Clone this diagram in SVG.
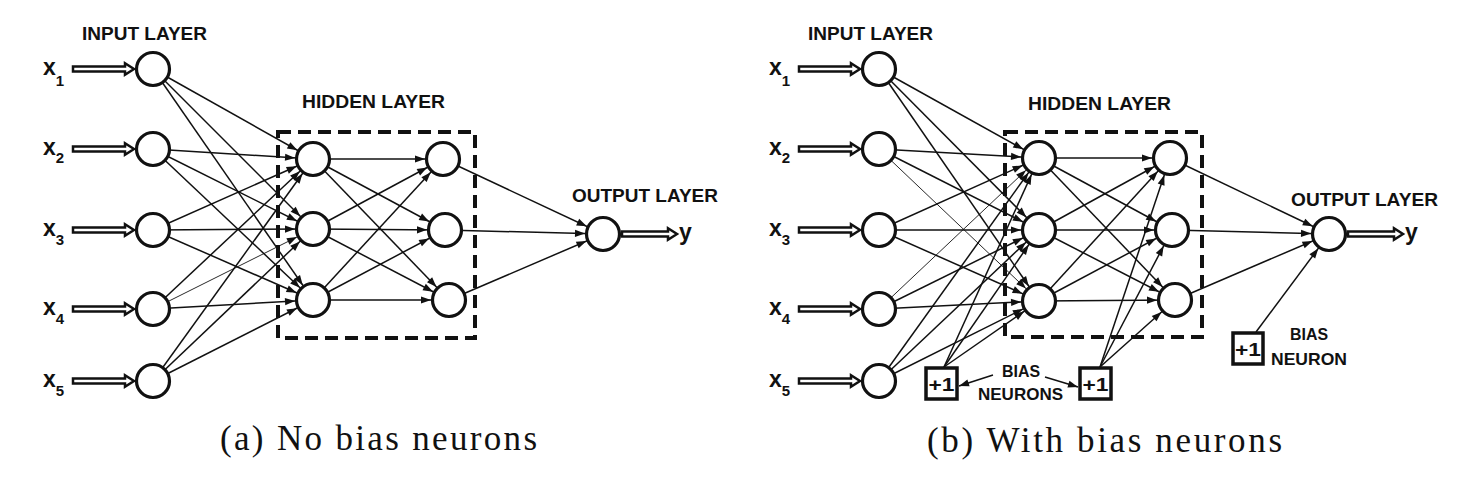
<svg xmlns="http://www.w3.org/2000/svg" xmlns:xlink="http://www.w3.org/1999/xlink" width="1469" height="488" viewBox="0 0 1469 488">
<style>
.lbl{font-family:"Liberation Sans",Arial,sans-serif;font-weight:bold;fill:#111}
.hdr{font-size:18.5px}
.cap{font-family:"Liberation Serif","Times New Roman",serif;font-size:35px;fill:#111}
.node{fill:#fff;stroke:#111;stroke-width:3.2}
.box{fill:#fff;stroke:#111;stroke-width:3.5}
.dash{fill:none;stroke:#111;stroke-width:4;stroke-dasharray:13 7}
.c{stroke:#111;stroke-width:1.5;fill:none;marker-end:url(#ah)}
.t{stroke-width:0.9}
.ca{stroke:#111;stroke-width:1.5;fill:none;marker-end:url(#ah0)}
.hol{fill:#fff;stroke:#111;stroke-width:2.5;stroke-linejoin:miter}
</style>
<defs>
<marker id="ah" markerUnits="userSpaceOnUse" markerWidth="30" markerHeight="20" refX="18" refY="0" orient="auto" overflow="visible">
<path d="M-10,-3.6 L0,0 L-10,3.6 Z" fill="#111"/>
</marker>
<marker id="ah0" markerUnits="userSpaceOnUse" markerWidth="30" markerHeight="20" refX="0" refY="0" orient="auto" overflow="visible">
<path d="M-10,-3.6 L0,0 L-10,3.6 Z" fill="#111"/>
</marker>
<path id="inArrow" class="hol" d="M0,-2.4 H52 V-5.8 L61,0 L52,5.8 V2.4 H0 Z"/>
<path id="outArrow" class="hol" d="M0,-2.4 H46 V-5.8 L55,0 L46,5.8 V2.4 H0 Z"/>
</defs>
<rect width="1469" height="488" fill="#fff"/>

<!-- ===== (a) connectors ===== -->
<g id="connectors-a">
<line class="c" x1="153" y1="69" x2="313" y2="159"/>
<line class="c" x1="153" y1="69" x2="313" y2="229"/>
<line class="c" x1="153" y1="69" x2="313" y2="300"/>
<line class="c" x1="153" y1="149" x2="313" y2="159"/>
<line class="c" x1="153" y1="149" x2="313" y2="229"/>
<line class="c" x1="153" y1="149" x2="313" y2="300"/>
<line class="c" x1="153" y1="230" x2="313" y2="159"/>
<line class="c" x1="153" y1="230" x2="313" y2="229"/>
<line class="c" x1="153" y1="230" x2="313" y2="300"/>
<line class="c" x1="153" y1="309" x2="313" y2="159"/>
<line class="c t" x1="153" y1="309" x2="313" y2="229"/>
<line class="c" x1="153" y1="309" x2="313" y2="300"/>
<line class="c" x1="153" y1="381" x2="313" y2="159"/>
<line class="c" x1="153" y1="381" x2="313" y2="229"/>
<line class="c" x1="153" y1="381" x2="313" y2="300"/>
<line class="c" x1="313" y1="159" x2="443" y2="159"/>
<line class="c" x1="313" y1="159" x2="445" y2="230"/>
<line class="c" x1="313" y1="159" x2="449" y2="300"/>
<line class="c" x1="313" y1="229" x2="443" y2="159"/>
<line class="c" x1="313" y1="229" x2="445" y2="230"/>
<line class="c" x1="313" y1="229" x2="449" y2="300"/>
<line class="c" x1="313" y1="300" x2="443" y2="159"/>
<line class="c" x1="313" y1="300" x2="445" y2="230"/>
<line class="c" x1="313" y1="300" x2="449" y2="300"/>
<line class="c" x1="443" y1="159" x2="603" y2="234"/>
<line class="c" x1="445" y1="230" x2="603" y2="234"/>
<line class="c" x1="449" y1="300" x2="603" y2="234"/>
<use xlink:href="#inArrow" x="73" y="69"/>
<use xlink:href="#inArrow" x="73" y="149"/>
<use xlink:href="#inArrow" x="73" y="230"/>
<use xlink:href="#inArrow" x="73" y="309"/>
<use xlink:href="#inArrow" x="73" y="381"/>
<use xlink:href="#outArrow" x="622" y="234"/>
</g>

<rect id="hidden-box-a" class="dash" x="278" y="132" width="197" height="206"/>

<g id="input-a" class="lbl">
<text class="hdr" x="82" y="40" textLength="125" lengthAdjust="spacingAndGlyphs">INPUT LAYER</text>
<g id="a-in1"><circle class="node" cx="153" cy="69" r="16.5"/><text x="43" y="75" font-size="23">x<tspan font-size="15" dy="11">1</tspan></text></g>
<g id="a-in2"><circle class="node" cx="153" cy="149" r="16.5"/><text x="43" y="155" font-size="23">x<tspan font-size="15" dy="8">2</tspan></text></g>
<g id="a-in3"><circle class="node" cx="153" cy="230" r="16.5"/><text x="43" y="236" font-size="23">x<tspan font-size="15" dy="9">3</tspan></text></g>
<g id="a-in4"><circle class="node" cx="153" cy="309" r="16.5"/><text x="43" y="315" font-size="23">x<tspan font-size="15" dy="9">4</tspan></text></g>
<g id="a-in5"><circle class="node" cx="153" cy="381" r="16.5"/><text x="43" y="387" font-size="23">x<tspan font-size="15" dy="9">5</tspan></text></g>
</g>
<g id="hidden-a" class="lbl">
<text class="hdr" x="302" y="108" textLength="143" lengthAdjust="spacingAndGlyphs">HIDDEN LAYER</text>
<g id="a-h11"><circle class="node" cx="313" cy="159" r="16.5"/></g>
<g id="a-h12"><circle class="node" cx="313" cy="229" r="16.5"/></g>
<g id="a-h13"><circle class="node" cx="313" cy="300" r="16.5"/></g>
<g id="a-h21"><circle class="node" cx="443" cy="159" r="16.5"/></g>
<g id="a-h22"><circle class="node" cx="445" cy="230" r="16.5"/></g>
<g id="a-h23"><circle class="node" cx="449" cy="300" r="16.5"/></g>
</g>
<g id="output-a" class="lbl">
<text class="hdr" x="572" y="202" textLength="146" lengthAdjust="spacingAndGlyphs">OUTPUT LAYER</text>
<circle class="node" cx="603" cy="234" r="16.5"/>
<text x="679" y="240" font-size="23">y</text>
</g>
<text id="caption-a" class="cap" x="220" y="450" textLength="317" lengthAdjust="spacing">(a) No bias neurons</text>

<!-- ===== (b) connectors ===== -->
<g id="connectors-b">
<line class="c" x1="879" y1="69" x2="1039" y2="158"/>
<line class="c" x1="879" y1="69" x2="1039" y2="230"/>
<line class="c" x1="879" y1="69" x2="1039" y2="301"/>
<line class="c" x1="879" y1="149" x2="1039" y2="158"/>
<line class="c" x1="879" y1="149" x2="1039" y2="230"/>
<line class="c t" x1="879" y1="149" x2="1039" y2="301"/>
<line class="c" x1="879" y1="230" x2="1039" y2="158"/>
<line class="c" x1="879" y1="230" x2="1039" y2="230"/>
<line class="c" x1="879" y1="230" x2="1039" y2="301"/>
<line class="c t" x1="879" y1="309" x2="1039" y2="158"/>
<line class="c" x1="879" y1="309" x2="1039" y2="230"/>
<line class="c" x1="879" y1="309" x2="1039" y2="301"/>
<line class="c" x1="879" y1="381" x2="1039" y2="158"/>
<line class="c" x1="879" y1="381" x2="1039" y2="230"/>
<line class="c" x1="879" y1="381" x2="1039" y2="301"/>
<line class="c" x1="944" y1="367" x2="1039" y2="158"/>
<line class="c" x1="944" y1="367" x2="1039" y2="230"/>
<line class="c" x1="944" y1="367" x2="1039" y2="301"/>
<line class="c" x1="1039" y1="158" x2="1170" y2="158"/>
<line class="c" x1="1039" y1="158" x2="1172" y2="230"/>
<line class="c" x1="1039" y1="158" x2="1175" y2="300"/>
<line class="c" x1="1039" y1="230" x2="1170" y2="158"/>
<line class="c" x1="1039" y1="230" x2="1172" y2="230"/>
<line class="c" x1="1039" y1="230" x2="1175" y2="300"/>
<line class="c" x1="1039" y1="301" x2="1170" y2="158"/>
<line class="c" x1="1039" y1="301" x2="1172" y2="230"/>
<line class="c" x1="1039" y1="301" x2="1175" y2="300"/>
<line class="c" x1="1100" y1="367" x2="1170" y2="158"/>
<line class="c" x1="1100" y1="367" x2="1172" y2="230"/>
<line class="c" x1="1100" y1="367" x2="1175" y2="300"/>
<line class="c" x1="1170" y1="158" x2="1329" y2="234"/>
<line class="c" x1="1172" y1="230" x2="1329" y2="234"/>
<line class="c" x1="1175" y1="300" x2="1329" y2="234"/>
<line class="c" x1="1256" y1="332" x2="1329" y2="234"/>
<line class="ca" x1="993" y1="375" x2="959" y2="386"/>
<line class="ca" x1="1045" y1="377" x2="1078" y2="387"/>
<use xlink:href="#inArrow" x="799" y="69"/>
<use xlink:href="#inArrow" x="799" y="149"/>
<use xlink:href="#inArrow" x="799" y="230"/>
<use xlink:href="#inArrow" x="799" y="309"/>
<use xlink:href="#inArrow" x="799" y="381"/>
<use xlink:href="#outArrow" x="1348" y="234"/>
</g>

<rect id="hidden-box-b" class="dash" x="1005" y="132" width="197" height="205"/>

<g id="input-b" class="lbl">
<text class="hdr" x="808" y="40" textLength="125" lengthAdjust="spacingAndGlyphs">INPUT LAYER</text>
<g id="b-in1"><circle class="node" cx="879" cy="69" r="16.5"/><text x="769" y="75" font-size="23">x<tspan font-size="15" dy="11">1</tspan></text></g>
<g id="b-in2"><circle class="node" cx="879" cy="149" r="16.5"/><text x="769" y="155" font-size="23">x<tspan font-size="15" dy="8">2</tspan></text></g>
<g id="b-in3"><circle class="node" cx="879" cy="230" r="16.5"/><text x="769" y="236" font-size="23">x<tspan font-size="15" dy="9">3</tspan></text></g>
<g id="b-in4"><circle class="node" cx="879" cy="309" r="16.5"/><text x="769" y="315" font-size="23">x<tspan font-size="15" dy="9">4</tspan></text></g>
<g id="b-in5"><circle class="node" cx="879" cy="381" r="16.5"/><text x="769" y="387" font-size="23">x<tspan font-size="15" dy="9">5</tspan></text></g>
</g>
<g id="hidden-b" class="lbl">
<text class="hdr" x="1028" y="110" textLength="143" lengthAdjust="spacingAndGlyphs">HIDDEN LAYER</text>
<g id="b-h11"><circle class="node" cx="1039" cy="158" r="16.5"/></g>
<g id="b-h12"><circle class="node" cx="1039" cy="230" r="16.5"/></g>
<g id="b-h13"><circle class="node" cx="1039" cy="301" r="16.5"/></g>
<g id="b-h21"><circle class="node" cx="1170" cy="158" r="16.5"/></g>
<g id="b-h22"><circle class="node" cx="1172" cy="230" r="16.5"/></g>
<g id="b-h23"><circle class="node" cx="1175" cy="300" r="16.5"/></g>
</g>
<g id="output-b" class="lbl">
<text class="hdr" x="1291" y="206" textLength="147" lengthAdjust="spacingAndGlyphs">OUTPUT LAYER</text>
<circle class="node" cx="1329" cy="234" r="16.5"/>
<text x="1405" y="240" font-size="23">y</text>
</g>
<g id="bias1" class="lbl">
<rect class="box" x="926" y="368" width="31" height="31"/>
<text x="928.5" y="391" font-size="18" textLength="26" lengthAdjust="spacingAndGlyphs">+1</text>
</g>
<g id="bias2" class="lbl">
<rect class="box" x="1080" y="368" width="31" height="31"/>
<text x="1082.5" y="391" font-size="18" textLength="26" lengthAdjust="spacingAndGlyphs">+1</text>
</g>
<g id="bias3" class="lbl">
<rect class="box" x="1233" y="333" width="30" height="31"/>
<text x="1235" y="356" font-size="18" textLength="26" lengthAdjust="spacingAndGlyphs">+1</text>
</g>
<g id="bias-labels" class="lbl" font-size="16.5">
<text x="1002" y="377" textLength="38" lengthAdjust="spacingAndGlyphs">BIAS</text>
<text x="978" y="400" textLength="85" lengthAdjust="spacingAndGlyphs">NEURONS</text>
<text x="1290" y="340" textLength="38" lengthAdjust="spacingAndGlyphs">BIAS</text>
<text x="1271" y="365" textLength="76" lengthAdjust="spacingAndGlyphs">NEURON</text>
</g>
<text id="caption-b" class="cap" x="927" y="452" textLength="355" lengthAdjust="spacing">(b) With bias neurons</text>
</svg>
